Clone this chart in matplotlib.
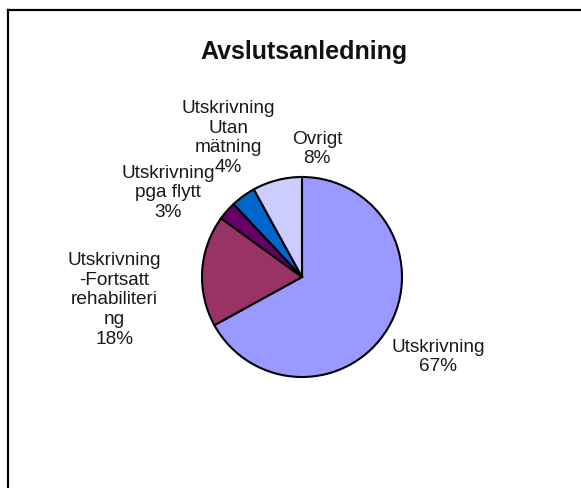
import matplotlib.pyplot as plt
from matplotlib.lines import Line2D

plt.rcParams['font.family'] = ['Liberation Sans', 'DejaVu Sans']

# data
categories = ['Utskrivning',
              'Utskrivning\n-Fortsatt\nrehabiliteri\nng',
              'Utskrivning\npga flytt',
              'Utskrivning\nUtan\nmätning',
              'Ovrigt']
percent = [67, 18, 3, 4, 8]
colors = ['#9999FF', '#993366', '#660066', '#0066CC', '#CCCCFF']

# label centres in pixel coords (from top-left)
label_pos = [(438, 357), (114, 300), (168, 193), (228, 138), (317, 149)]

W, H = 581, 489
fig = plt.figure(figsize=(W / 100, H / 100), dpi=100)
ax = fig.add_axes([0, 0, 1, 1])

cx, cy, r = 302, H - 278, 100
ax.pie(percent, colors=colors, startangle=90, counterclock=False,
       center=(cx, cy), radius=r, frame=True,
       wedgeprops=dict(edgecolor='black', linewidth=1.5))
ax.set_xlim(0, W)
ax.set_ylim(0, H)
ax.set_aspect('equal')
ax.axis('off')

for name, p, (x, y) in zip(categories, percent, label_pos):
    ax.text(x, H - y, f"{name}\n{p}%", ha='center', va='center',
            fontsize=13.7, color='#1a1a1a', linespacing=1.2)

ax.text(304, H - 52, 'Avslutsanledning', ha='center', va='center',
        fontsize=18, fontweight='bold', color='#111111')

# chart frame (only left and top edges are inside the picture)
fig.add_artist(Line2D([8 / W, 8 / W], [0, 1 - 11 / H], transform=fig.transFigure,
                      color='black', linewidth=1.6))
fig.add_artist(Line2D([8 / W, 1], [1 - 11 / H, 1 - 11 / H], transform=fig.transFigure,
                      color='black', linewidth=1.6))

fig.savefig('out.png', dpi=100, facecolor='white')
